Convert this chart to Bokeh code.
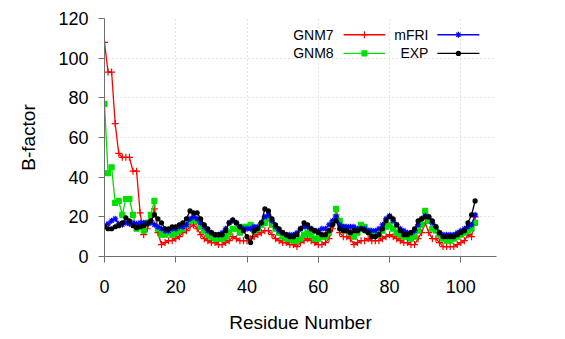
from bokeh.plotting import figure
from bokeh.models import Range1d, Label, FixedTicker
from bokeh.embed import file_html
from bokeh.resources import INLINE

residues = list(range(0, 105))

gnm7 = [108, 93, 93, 67, 52, 50, 50, 50, 43, 43,
        22, 11, 14, 18, 24, 12, 6, 7, 8, 8,
        9, 10, 12, 13, 15, 16, 14, 11, 9, 8,
        7, 7, 6, 6, 7, 8, 10, 9, 8, 8,
        8, 9, 10, 11, 12, 13, 13, 11, 9, 8,
        7, 7, 6, 6, 5, 7, 8, 9, 8, 7,
        6, 6, 7, 9, 14, 21, 12, 10, 10, 9,
        6, 7, 8, 8, 9, 8, 8, 8, 9, 10,
        11, 10, 9, 8, 7, 7, 6, 6, 9, 12,
        17, 12, 9, 9, 7, 5, 5, 5, 5, 6,
        7, 8, 11, 10, 20]

gnm8 = [77, 42, 45, 27, 28, 21, 29, 29, 21, 14,
        15, 13, 17, 21, 28, 14, 11, 11, 12, 11,
        12, 13, 14, 16, 18, 19, 18, 15, 13, 11,
        10, 9, 9, 9, 10, 12, 14, 14, 12, 15,
        15, 16, 13, 14, 16, 17, 19, 16, 14, 12,
        10, 9, 9, 8, 8, 9, 11, 12, 11, 9,
        9, 10, 10, 12, 17, 24, 18, 15, 13, 12,
        10, 12, 16, 15, 13, 12, 11, 11, 13, 15,
        16, 14, 12, 11, 10, 10, 9, 10, 13, 16,
        23, 18, 14, 13, 11, 9, 8, 8, 9, 10,
        11, 12, 13, 14, 17]

mfri = [15.5, 16.5, 18, 19, 16.5, 16, 17, 16.5, 17, 16.5,
        17, 17, 17, 17, 16, 15, 14, 13, 13, 14,
        14, 15, 15, 16, 19, 20, 19, 17, 15, 13,
        12, 11, 11, 12, 14, 17, 18, 17, 15, 14,
        14, 14, 15, 15, 17, 20, 21, 18, 15, 13,
        12, 11, 11, 11, 12, 14, 15, 15, 14, 13,
        13, 14, 14, 16, 18, 20, 16, 15, 15, 15,
        15, 14, 14, 14, 13, 13, 13, 14, 16, 19,
        20.5, 18, 16, 14, 13, 12, 12, 13, 16, 19,
        20.5, 20, 17, 15, 12, 11, 11, 11, 11, 12,
        13, 14, 15, 16, 21]

exp = [15, 14, 14, 15, 15.5, 17, 19.5, 18, 15.5, 14.5,
       15, 15.5, 16.5, 18, 21, 19, 17, 14, 14, 15,
       15, 16, 17, 19, 23, 22, 22, 19, 16, 14,
       12, 11, 11, 11, 13, 17, 18.5, 17, 15, 13,
       10, 7, 13, 14, 17, 24, 23, 19, 16, 14,
       12, 11, 10, 10, 11, 14, 17, 16, 14, 13,
       12, 11, 11, 13, 16, 18, 14, 13, 13, 12,
       13, 13, 14, 13, 12, 10, 10, 11, 14, 18,
       20, 19, 16, 13, 11, 11, 12, 14, 18, 19,
       20, 20, 18, 15, 12, 10, 10, 10, 10, 11,
       12, 13, 17, 21, 28]

x_ticks = [0, 20, 40, 60, 80, 100]
y_ticks = [0, 20, 40, 60, 80, 100, 120]
series_names = ["GNM7", "GNM8", "mFRI", "EXP"]

FONT = "Liberation Sans"

p = figure(width=549, height=338, output_backend="svg", toolbar_location=None,
           x_range=Range1d(0, 110), y_range=Range1d(0, 120),
           min_border_left=104, min_border_right=53, min_border_top=18,
           min_border_bottom=82)
p.outline_line_color = None
p.background_fill_color = "white"
p.border_fill_color = "white"

for ax in (p.xaxis[0], p.yaxis[0]):
    ax.axis_line_color = "#6e6e6e"
    ax.major_tick_line_color = "#6e6e6e"
    ax.minor_tick_line_color = None
    ax.major_tick_out = 6
    ax.major_tick_in = 0
    ax.major_label_text_font = FONT
    ax.major_label_text_font_size = "18px"
    ax.major_label_text_color = "black"
    ax.axis_label_text_font = FONT
    ax.axis_label_text_font_size = "19px"
    ax.axis_label_text_font_style = "normal"
    ax.axis_label_text_color = "black"

p.xaxis.ticker = FixedTicker(ticks=x_ticks)
p.yaxis.ticker = FixedTicker(ticks=y_ticks)
p.xaxis.axis_label = "Residue Number"
p.yaxis.axis_label = "B-factor"
p.xaxis.major_label_standoff = 17
p.yaxis.major_label_standoff = 10
p.xaxis.axis_label_standoff = 16
p.yaxis.axis_label_standoff = 16

for g in (p.xgrid[0], p.ygrid[0]):
    g.grid_line_color = "#c8c8c8"
    g.grid_line_dash = "1 3"
    g.grid_line_width = 1

styles = [
    (gnm7, "#ff0000", "cross", 7),
    (gnm8, "#00e000", "square", 5),
    (mfri, "#0000ff", "asterisk", 6),
    (exp, "#000000", "circle", 4),
]

for ys, col, mk, sz in styles:
    p.line(residues, ys, line_color=col, line_width=1.3)
    p.scatter(residues, ys, marker=mk, size=sz, line_color=col, fill_color=col,
              line_width=1.2)

# legend (gnuplot style: label, then sample line with marker)
leg_rows = [111.8, 102.4]
leg_cols = [(64.3, 67.1, 78.8), (90.9, 93.4, 105.2)]
slots = [(0, 0), (1, 0), (0, 1), (1, 1)]
for (ys, col, mk, sz), name, (r, c) in zip(styles, series_names, slots):
    tx, x0, x1 = leg_cols[c]
    yy = leg_rows[r]
    p.add_layout(Label(x=tx, y=yy, text=name, text_align="right",
                       text_baseline="middle", text_font=FONT,
                       text_font_size="14px", text_color="black"))
    p.line([x0, x1], [yy, yy], line_color=col, line_width=1.3)
    p.scatter([(x0 + x1) / 2], [yy], marker=mk, size=sz, line_color=col,
              fill_color=col, line_width=1.2)

open("out.html", "w").write(file_html(p, INLINE))
